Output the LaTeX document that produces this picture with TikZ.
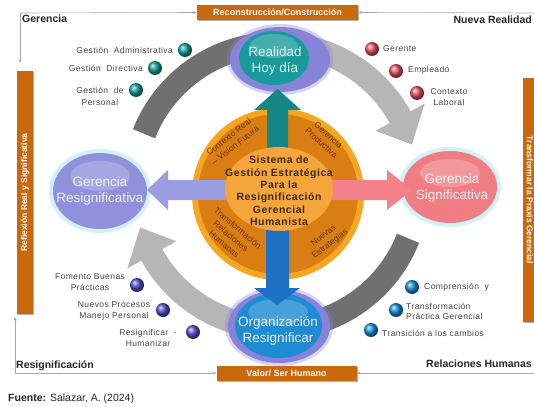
\documentclass[tikz,border=0pt]{standalone}
\usepackage{fontspec}
\setmainfont{Liberation Sans}
\newfontfamily\spaced[LetterSpace=5]{Liberation Sans}
\usetikzlibrary{arrows.meta,shapes.geometric,shadows}
\definecolor{obar}{HTML}{C9680C}
\definecolor{framegray}{HTML}{A8A8A8}
\definecolor{darkarc}{HTML}{707070}
\definecolor{lightarc}{HTML}{B6B6B6}
\definecolor{ringout}{HTML}{F6A623}
\definecolor{ringmid}{HTML}{D97E12}
\definecolor{ringin}{HTML}{F4A63C}
\definecolor{tealC}{HTML}{189A9A}
\definecolor{purpglow}{HTML}{8683D8}
\definecolor{blueC}{HTML}{1D8CD4}
\definecolor{lavC}{HTML}{9090DC}
\definecolor{pinkC}{HTML}{F07C84}
\definecolor{cyanglow}{HTML}{D2F1F4}
\definecolor{tealarrow}{HTML}{138686}
\definecolor{bluearrow}{HTML}{1E70C4}
\definecolor{lavarrow}{HTML}{9C9CE2}
\definecolor{pinkarrow}{HTML}{F4808A}
\definecolor{labgray}{HTML}{444444}
\definecolor{ringtext}{HTML}{6A3800}
\definecolor{centertext}{HTML}{3C2A14}
\definecolor{tealball}{HTML}{10A0A0}
\definecolor{redball}{HTML}{E8505C}
\definecolor{purpball}{HTML}{4F4FD0}
\definecolor{blueball}{HTML}{1590DA}
\begin{document}
\begin{tikzpicture}[x=1pt,y=-1pt,
  lab/.style={inner sep=0, text=labgray, font=\spaced\fontsize{8.5}{10.5}\selectfont, align=center},
  ringlab/.style={inner sep=0, text=ringtext, font=\fontsize{8.5}{10.5}\selectfont, align=center},
  corner/.style={inner sep=0, text=black!85, font=\bfseries\fontsize{10.5}{12}\selectfont},
  obox/.style={fill=obar, text=white, font=\bfseries\fontsize{9}{10}\selectfont, inner sep=0,
     drop shadow={shadow xshift=1.2pt, shadow yshift=-1.2pt, opacity=0.3, fill=black}},
  frame/.style={draw=framegray, line width=0.6pt, -{Stealth[length=3.5pt,width=3pt]}},
  ballnode/.style={circle, inner sep=0, minimum size=14, shading=ball, ball color=#1},
  bubtext/.style={inner sep=0, align=center, text=white!94!black, font=\fontsize{13.5}{16}\selectfont},
  ellnode/.style={ellipse, inner sep=0, draw=none}]
\useasboundingbox[fill=white] (0,0) rectangle (534,406);

% ---------- frame lines and orange boxes
\node[obox, minimum width=161, minimum height=15] (topbox) at (277.5,12.5) {Reconstrucción/Construcción};
\node[obox, minimum width=140, minimum height=15] (botbox) at (286.5,373) {Valor/ Ser Humano};
\node[obox, rotate=90, minimum width=243, minimum height=16, font=\bfseries\fontsize{8.5}{10}\selectfont] (lbar) at (25,192.5) {Reflexión Real y Significativa};
\node[obox, rotate=-90, minimum width=244, minimum height=14, font=\bfseries\fontsize{8.5}{10}\selectfont] (rbar) at (530,200) {Transformar la Praxis Gerencial};
\coordinate (cTL) at (20,13);
\coordinate (cTLd) at (20,63);
\coordinate (cTR) at (534,13);
\coordinate (cBL) at (15,373);
\coordinate (cBLu) at (15,317);
\coordinate (cBR) at (534,373);
\draw[frame] (cTL) -- (topbox.west);
\draw[frame] (cTL) -- (cTLd);
\draw[frame] (cTR) -- (topbox.east);
\draw[frame] (cBL) -- (botbox.west);
\draw[frame] (cBL) -- (cBLu);
\draw[frame] (cBR) -- (botbox.east);
\node[corner, anchor=west] (kG) at (22,19) {Gerencia};
\node[corner, anchor=east] (kN) at (532,20) {Nueva Realidad};
\node[corner, anchor=west] (kR) at (16,366) {Resignificación};
\node[corner, anchor=east] (kH) at (532,364) {Relaciones Humanas};

% ---------- grey circular arrows
\begin{scope}[shift={(276,186)}]
  \draw[darkarc, line width=24] (-158.4:142) arc[start angle=-158.4, end angle=-88, radius=142];
  \draw[lightarc, line width=24] (-90:142) arc[start angle=-90, end angle=-28, radius=142];
  \fill[lightarc] (-29:114) -- (-29:170) -- (-17:142) -- cycle;
  \draw[darkarc, line width=24] (21.6:142) arc[start angle=21.6, end angle=92, radius=142];
  \draw[lightarc, line width=24] (90:142) arc[start angle=90, end angle=152, radius=142];
  \fill[lightarc] (151:114) -- (151:170) -- (163:142) -- cycle;
\end{scope}

% ---------- bubbles
\fill[purpglow, opacity=0.35] (280,59.5) ellipse[x radius=53, y radius=35.5];
\node[ellnode, fill=purpglow, minimum width=100, minimum height=65] (rglow) at (280,59.5) {};
\node[ellnode, fill=tealC, minimum width=70, minimum height=54] (real) at (274,58) {};
\fill[white, opacity=0.2] (274,46) ellipse[x radius=24, y radius=12];
\node[bubtext, text=white!88!teal] (realt) at (275,61.5) {Realidad\\Hoy día};

\fill[purpglow, opacity=0.35] (279,326.5) ellipse[x radius=54, y radius=39.5];
\node[ellnode, fill=purpglow, minimum width=102, minimum height=73] (oglow) at (279,326.5) {};
\node[ellnode, fill=blueC, minimum width=87, minimum height=65] (org) at (278.5,325.5) {};
\fill[white, opacity=0.18] (278,312) ellipse[x radius=30, y radius=13];
\node[bubtext] (orgt) at (278,331) {Organización\\Resignificar};

\node[ellnode, fill=cyanglow, minimum width=102, minimum height=84] (gresglow) at (100,191) {};
\node[ellnode, fill=lavC, minimum width=94, minimum height=76] (gres) at (100,191) {};
\fill[white, opacity=0.2] (100,176) ellipse[x radius=30, y radius=15];
\node[bubtext] (grest) at (100,191.5) {Gerencia\\Resignificativa};

\node[ellnode, fill=cyanglow, minimum width=102, minimum height=80] (gsigglow) at (450,187) {};
\node[ellnode, fill=pinkC, minimum width=94, minimum height=72] (gsig) at (450,187) {};
\fill[white, opacity=0.22] (450,173) ellipse[x radius=30, y radius=14];
\node[bubtext] (gsigt) at (452,188.5) {Gerencia\\Significativa};

% ---------- orange disc and block arrows
\fill[ringout] (278,194) circle[radius=86];
\fill[ringmid] (278,194) circle[radius=80];
\fill[tealarrow] (267,150) -- (267,110) -- (254,110) -- (277.5,89) -- (301,110) -- (288,110) -- (288,150) -- cycle;
\fill[bluearrow] (266,225) -- (266,288) -- (254,288) -- (277,305) -- (300,288) -- (289,288) -- (289,225) -- cycle;
\fill[lavarrow] (232,180) -- (168,180) -- (168,170) -- (147,190) -- (168,210) -- (168,200) -- (232,200) -- cycle;
\fill[pinkarrow] (326,180) -- (387,180) -- (387,170) -- (412,190) -- (387,210) -- (387,200) -- (326,200) -- cycle;
\fill[ringin] (279,189) ellipse[x radius=54, y radius=42];

\node[inner sep=0, align=center, text=centertext, font=\spaced\bfseries\fontsize{10.5}{12.4}\selectfont] (core) at (279,191)
  {Sistema de\\Gestión Estratégica\\Para la\\Resignificación\\Gerencial\\Humanista};
\node[ringlab, rotate=38] (q1) at (232,141) {Contexto Real\\– Vision Futura};
\node[ringlab, rotate=-42] (q2) at (325,139) {Gerencia\\Productiva};
\node[ringlab, rotate=-40] (q3) at (231,236) {Transformación\\Relaciones\\Humanas};
\node[ringlab, rotate=38] (q4) at (327,240) {Nuevas\\Estrategias};

% ---------- bullet lists
\node[ballnode=tealball] (b1) at (185,50) {};
\node[ballnode=tealball] (b2) at (155,68) {};
\node[ballnode=tealball] (b3) at (136,90) {};
\node[lab, anchor=east] (t1) at (173,50) {Gestión\ \ Administrativa};
\node[lab, anchor=east] (t2) at (143,68) {Gestión\ \ Directiva};
\node[lab, font=\spaced\fontsize{8.5}{11.5}\selectfont] (t3) at (100,96.5) {Gestión\ \ de\\Personal};

\node[ballnode=redball] (b4) at (372,49) {};
\node[ballnode=redball] (b5) at (396,71) {};
\node[ballnode=redball] (b6) at (417,93) {};
\node[lab, anchor=west] (t4) at (383,49) {Gerente};
\node[lab, anchor=west] (t5) at (408,70) {Empleado};
\node[lab] (t6) at (449,97) {Contexto\\Laboral};

\node[ballnode=purpball] (b7) at (137,285) {};
\node[ballnode=purpball] (b8) at (163,310) {};
\node[ballnode=purpball] (b9) at (193,332) {};
\node[lab] (t7) at (90,282) {Fomento Buenas\\Prácticas};
\node[lab] (t8) at (114,311) {Nuevos Procesos\\Manejo Personal};
\node[lab] (t9) at (148,338) {Resignificar \ -\\Humanizar};

\node[ballnode=blueball] (b10) at (412,287) {};
\node[ballnode=blueball] (b11) at (396,310) {};
\node[ballnode=blueball] (b12) at (371,330) {};
\node[lab, anchor=west] (t10) at (424,287) {Comprensión\ \ y};
\node[lab, anchor=west, align=left] (t11) at (406,311.5) {Transformación\\Práctica Gerencial};
\node[lab, anchor=west] (t12) at (382,333) {Transición a los cambios};

% ---------- source
\node[inner sep=0, anchor=west, text=black!85, font=\fontsize{10.5}{12}\selectfont] (src) at (8,399) {\textbf{Fuente:} Salazar, A. (2024)};
\end{tikzpicture}
\end{document}
